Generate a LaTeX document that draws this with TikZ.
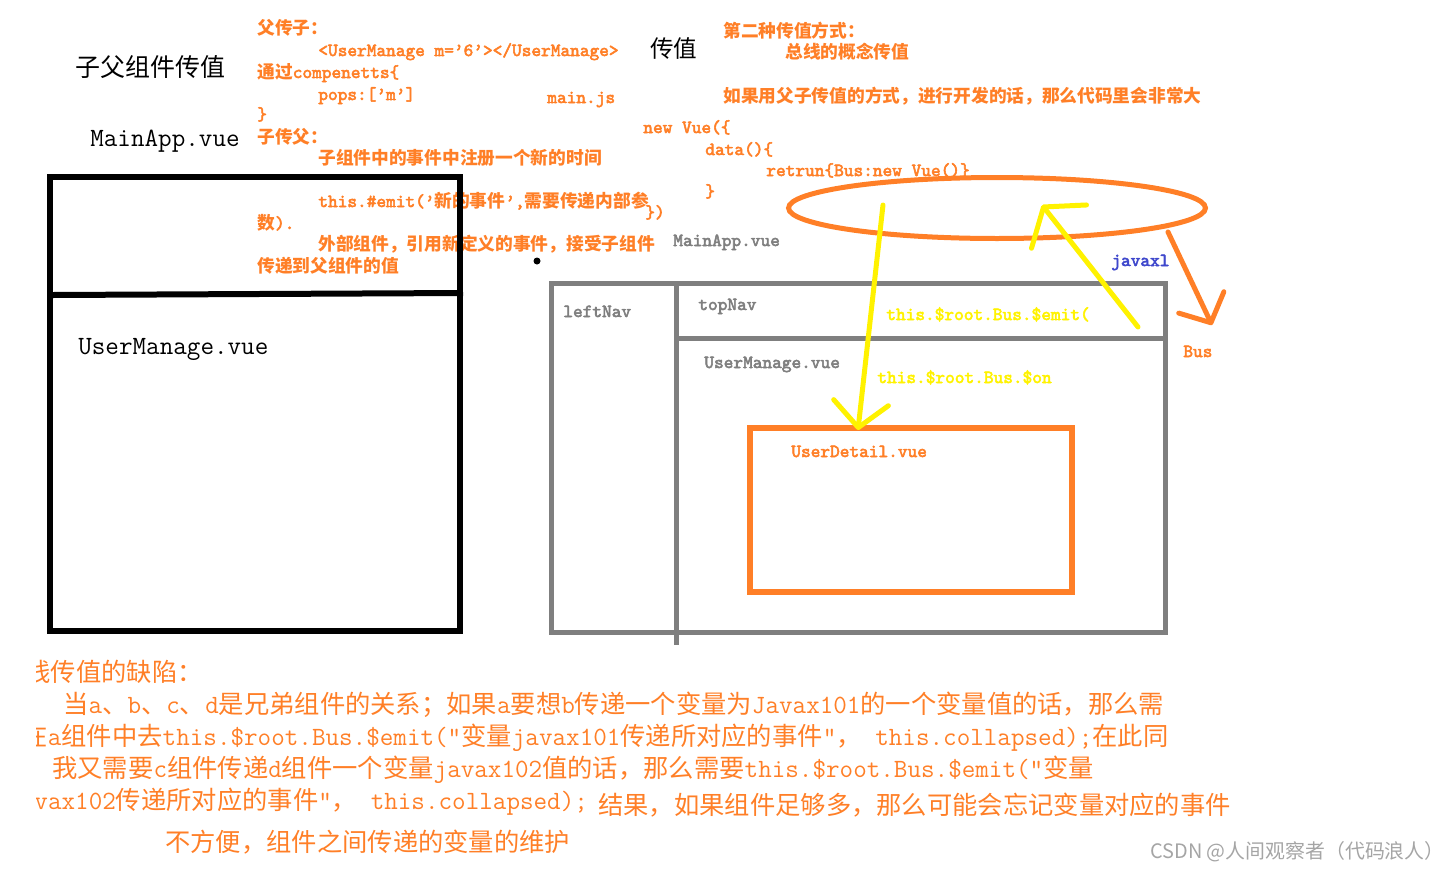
\documentclass[tikz,border=0pt]{standalone}
\usepackage{fontspec}
\usepackage{tikz}
\usetikzlibrary{arrows.meta, positioning, shapes.geometric}
\newfontfamily\cjk[Scale=0.96]{Noto Sans CJK SC}
\newfontfamily\monobold[FakeBold=3, BoldFont={Latin Modern Mono}, BoldFeatures={FakeBold=3}]{Latin Modern Mono}
\newcommand\zhs[1]{{\cjk #1}}
\definecolor{paintorange}{RGB}{255,127,39}
\definecolor{paintyellow}{RGB}{255,242,0}
\definecolor{paintblue}{RGB}{63,72,204}
\definecolor{boxgray}{RGB}{127,127,127}
\definecolor{markgray}{RGB}{165,165,165}
\tikzset{
  txt/.style={inner sep=0pt, anchor=base west},
  code/.style={txt, text=paintorange, font=\fontsize{10.5}{12}\selectfont\bfseries\monobold},
  tag/.style={code, text=boxgray},
  note/.style={txt, text=paintorange, font=\fontsize{15}{17}\selectfont\ttfamily},
  heading/.style={txt, font=\fontsize{15}{18}\selectfont\ttfamily},
  frame/.style={line width=1.2mm},
  panel/.style={draw=boxgray, line width=1mm},
  pen/.style={line width=1mm, line cap=round, line join=round},
  hand/.style={pen, -{Straight Barb[length=5mm, width=11mm, round]}},
}

\begin{document}
\begin{tikzpicture}[x=0.02cm, y=-0.02cm]
  \useasboundingbox (0,0) rectangle (1451,870);

  % titles
  \node[heading, font=\fontsize{14.8}{18}\selectfont] (title) at (75,76) {\zhs{子父组件传值}};
  \node[heading] (mainapp) at (90,146) {MainApp.vue};
  \node[heading, font=\fontsize{14}{18}\selectfont] (chuanzhi) at (650,57) {\zhs{传值}};

  % parent <-> child notes
  \node[code] (ft1) at (257,34) {\zhs{父传子：}};
  \node[code] (ft2) at (318,56) {<UserManage m=’6’></UserManage>};
  \node[code] (ft3) at (257,78) {\zhs{通过}compenetts\{};
  \node[code] (ft4) at (318,100) {pops:[’m’]};
  \node[code] (ft5) at (257,120) {\}};
  \node[code] (ft6) at (257,143) {\zhs{子传父：}};
  \node[code] (ft7) at (318,164) {\zhs{子组件中的事件中注册一个新的时间}};
  \node[code] (ft8) at (318,207) {this.\#emit(’\zhs{新的事件}’,\zhs{需要传递内部参}};
  \node[code] (ft9) at (257,229) {\zhs{数}).};
  \node[code] (ft10) at (318,250) {\zhs{外部组件，引用新定义的事件，接受子组件}};
  \node[code] (ft11) at (257,272) {\zhs{传递到父组件的值}};

  % bus notes
  \node[code] (mainjs) at (547,103) {main.js};
  \node[code] (way1) at (723,37) {\zhs{第二种传值方式：}};
  \node[code] (way2) at (785,58) {\zhs{总线的概念传值}};
  \node[code] (way3) at (723,102) {\zhs{如果用父子传值的方式，进行开发的话，那么代码里会非常大}};
  \node[code] (vue1) at (643,133) {new Vue(\{};
  \node[code] (vue2) at (705,155) {data()\{};
  \node[code] (vue3) at (766,176) {retrun\{Bus:new Vue()\}};
  \node[code] (vue4) at (705,197) {\}};
  \node[code] (vue5) at (645,218) {\})};

  % left layout
  \node[heading] (umblack) at (78,354) {UserManage.vue};
  \draw[frame] (50,177) rectangle (460,631);
  \draw[frame] (52,295) -- (463,293);
  \fill (537,261) circle (3.5);

  % right layout
  \node[tag] (appvue) at (673,246) {MainApp.vue};
  \node[tag] (leftnav) at (563,317) {leftNav};
  \node[tag] (topnav) at (698,310) {topNav};
  \node[tag] (umvue) at (704,368) {UserManage.vue};
  \node[code, text=paintyellow] (emitlbl) at (886,320) {this.\$root.Bus.\$emit(};
  \node[code, text=paintyellow] (onlbl) at (877,383) {this.\$root.Bus.\$on};
  \node[code] (udlbl) at (791,457) {UserDetail.vue};
  \node[code, text=paintblue] (javaxl) at (1111,266) {javaxl};
  \node[code] (buslbl) at (1183,357) {Bus};
  \draw[panel] (551,283) rectangle (1165,632);
  \draw[panel] (676,283) -- (676,645);
  \draw[panel] (676,338) -- (1165,338);
  \node[draw=paintorange, line width=1.2mm, minimum width=6.45cm, minimum height=3.3cm, inner sep=0pt] (detail) at (911,510) {};

  % the bus
  \node[ellipse, draw=paintorange, line width=1mm, minimum width=8.34cm, minimum height=1.22cm, inner sep=0pt] (busring) at (997,208) {};
  \coordinate (dnA) at (883,205);
  \coordinate (dnB) at (858,430);
  \coordinate (upA) at (1138,327);
  \coordinate (upB) at (1042,205);
  \coordinate (busA) at (1168,232);
  \coordinate (busB) at (1212,325);
  \draw[hand, paintyellow] (dnA) -- (dnB);
  \draw[pen, paintyellow, -{Straight Barb[length=5mm, width=14mm, round]}] (upA) -- (upB);
  \draw[pen, paintorange, -{Straight Barb[length=4.5mm, width=10mm, round]}] (busA) -- (busB);

  % drawbacks
  \begin{scope}
    \clip (36,640) rectangle (1451,870);
    \node[note] (flaw) at (0,681) {\zhs{总线传值的缺陷：}};
    \node[note] (n1) at (63,713) {\zhs{当}a\zhs{、}b\zhs{、}c\zhs{、}d\zhs{是兄弟组件的关系；如果}a\zhs{要想}b\zhs{传递一个变量为}Javax101\zhs{的一个变量值的话，那么需}};
    \node[note] (n2) at (-3,745) {\zhs{要在}a\zhs{组件中去}this.\$root.Bus.\$emit(”\zhs{变量}javax101\zhs{传递所对应的事件}”\zhs{，} this.collapsed);\zhs{在此同}};
    \node[note] (n3) at (52,777) {\zhs{我又需要}c\zhs{组件传递}d\zhs{组件一个变量}javax102\zhs{值的话，那么需要}this.\$root.Bus.\$emit(”\zhs{变量}};
    \node[note] (n4) at (7,809) {javax102\zhs{传递所对应的事件}”\zhs{，} this.collapsed);};
    \node[note] (n5) at (598,814) {\zhs{结果，如果组件足够多，那么可能会忘记变量对应的事件}};
    \node[note] (n6) at (165,851) {\zhs{不方便，组件之间传递的变量的维护}};
  \end{scope}

  \node[txt, text=markgray, font=\fontsize{11.8}{14}\selectfont\cjk] (mark) at (1150,858) {CSDN @人间观察者（代码浪人）};
\end{tikzpicture}
\end{document}
